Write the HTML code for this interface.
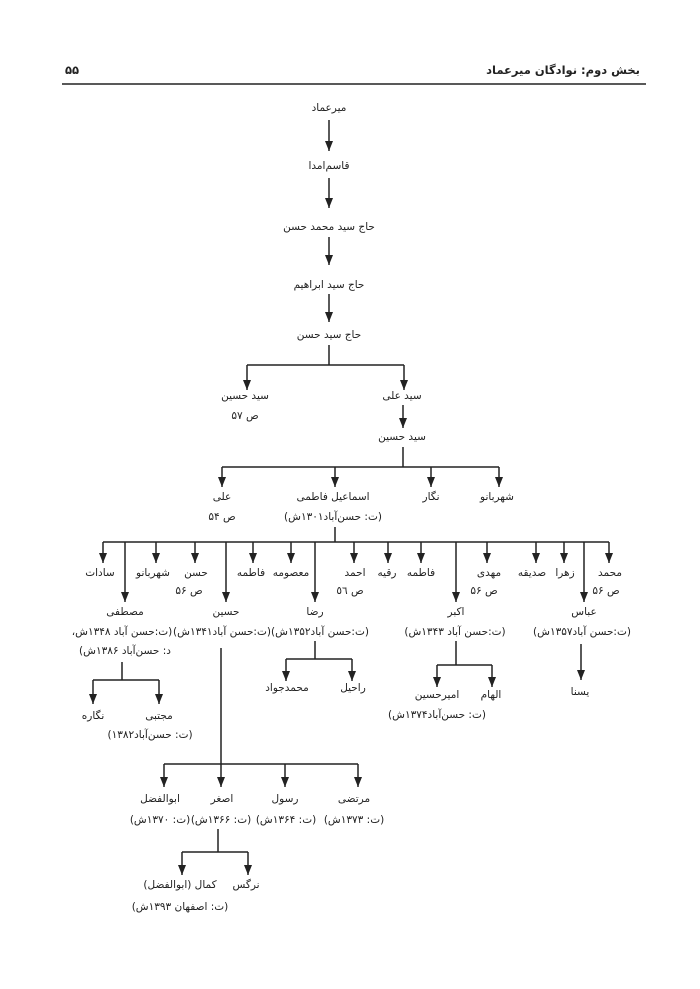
<!DOCTYPE html>
<html><head><meta charset="utf-8">
<style>
html,body{margin:0;padding:0;background:#fff;}
svg{display:block;}
text{font-family:"DejaVu Sans",sans-serif;font-size:10.5px;fill:#222;text-anchor:middle;direction:rtl;unicode-bidi:embed;}
.h{font-size:11.5px;font-weight:bold;}
line,path{stroke:#222;stroke-width:1.5;fill:none;}
</style></head><body>
<svg width="700" height="989" viewBox="0 0 700 989" xmlns="http://www.w3.org/2000/svg">
<defs><marker id="a" markerWidth="10" markerHeight="8" refX="10" refY="4" orient="auto" markerUnits="userSpaceOnUse" viewBox="0 0 10 8"><path d="M0,0 L10,4 L0,8 Z" style="fill:#222;stroke:none"/></marker></defs>

<text class="h" x="640" y="74" style="text-anchor:start">بخش دوم: نوادگان میرعماد</text>
<text class="h" x="72" y="74">۵۵</text>
<line x1="62" y1="84" x2="646" y2="84" style="stroke-width:1.6"/>

<text x="329" y="111">میرعماد</text>
<line x1="329" y1="120" x2="329" y2="151" marker-end="url(#a)"/>
<text x="329" y="169">قاسم‌امدا</text>
<line x1="329" y1="178" x2="329" y2="208" marker-end="url(#a)"/>
<text x="329" y="230">حاج سید محمد حسن</text>
<line x1="329" y1="237" x2="329" y2="265" marker-end="url(#a)"/>
<text x="329" y="288">حاج سید ابراهیم</text>
<line x1="329" y1="294" x2="329" y2="322" marker-end="url(#a)"/>
<text x="329" y="338">حاج سید حسن</text>
<path d="M329,345 V365 M247,365 H404"/>
<line x1="247" y1="365" x2="247" y2="390" marker-end="url(#a)"/>
<line x1="404" y1="365" x2="404" y2="390" marker-end="url(#a)"/>
<text x="245" y="399">سید حسین</text>
<text x="245" y="419">ص ۵۷</text>
<text x="402" y="399">سید علی</text>
<line x1="403" y1="405" x2="403" y2="428" marker-end="url(#a)"/>
<text x="402" y="440">سید حسین</text>

<path d="M403,447 V467 M222,467 H499"/>
<line x1="222" y1="467" x2="222" y2="487" marker-end="url(#a)"/>
<line x1="335" y1="467" x2="335" y2="487" marker-end="url(#a)"/>
<line x1="431" y1="467" x2="431" y2="487" marker-end="url(#a)"/>
<line x1="499" y1="467" x2="499" y2="487" marker-end="url(#a)"/>
<text x="222" y="500">علی</text>
<text x="222" y="520">ص ۵۴</text>
<text x="333" y="500">اسماعیل فاطمی</text>
<text x="333" y="520">(ت: حسن‌آباد۱۳۰۱ش)</text>
<text x="431" y="500">نگار</text>
<text x="497" y="500">شهربانو</text>

<path d="M335,527 V542 M103,542 H609"/>
<g>
<line x1="103" y1="542" x2="103" y2="563" marker-end="url(#a)"/>
<line x1="156" y1="542" x2="156" y2="563" marker-end="url(#a)"/>
<line x1="195" y1="542" x2="195" y2="563" marker-end="url(#a)"/>
<line x1="253" y1="542" x2="253" y2="563" marker-end="url(#a)"/>
<line x1="291" y1="542" x2="291" y2="563" marker-end="url(#a)"/>
<line x1="354" y1="542" x2="354" y2="563" marker-end="url(#a)"/>
<line x1="388" y1="542" x2="388" y2="563" marker-end="url(#a)"/>
<line x1="421" y1="542" x2="421" y2="563" marker-end="url(#a)"/>
<line x1="487" y1="542" x2="487" y2="563" marker-end="url(#a)"/>
<line x1="536" y1="542" x2="536" y2="563" marker-end="url(#a)"/>
<line x1="564" y1="542" x2="564" y2="563" marker-end="url(#a)"/>
<line x1="609" y1="542" x2="609" y2="563" marker-end="url(#a)"/>
<line x1="125" y1="542" x2="125" y2="602" marker-end="url(#a)"/>
<line x1="226" y1="542" x2="226" y2="602" marker-end="url(#a)"/>
<line x1="315" y1="542" x2="315" y2="602" marker-end="url(#a)"/>
<line x1="456" y1="542" x2="456" y2="602" marker-end="url(#a)"/>
<line x1="584" y1="542" x2="584" y2="602" marker-end="url(#a)"/>
</g>
<text x="100" y="576">سادات</text>
<text x="153" y="576">شهربانو</text>
<text x="196" y="576">حسن</text>
<text x="189" y="594">ص ۵۶</text>
<text x="251" y="576">فاطمه</text>
<text x="291" y="576">معصومه</text>
<text x="355" y="576">احمد</text>
<text x="350" y="594">ص ٥٦</text>
<text x="387" y="576">رقیه</text>
<text x="421" y="576">فاطمه</text>
<text x="489" y="576">مهدی</text>
<text x="484" y="594">ص ۵۶</text>
<text x="532" y="576">صدیقه</text>
<text x="565" y="576">زهرا</text>
<text x="610" y="576">محمد</text>
<text x="606" y="594">ص ۵۶</text>

<text x="125" y="615">مصطفی</text>
<text x="122" y="635">(ت:حسن آباد ۱۳۴۸ش،</text>
<text x="125" y="654">د: حسن‌آباد ۱۳۸۶ش)</text>
<text x="226" y="615">حسین</text>
<text x="222" y="635">(ت:حسن آباد۱۳۴۱ش)</text>
<text x="315" y="615">رضا</text>
<text x="320" y="635">(ت:حسن آباد۱۳۵۲ش)</text>
<text x="456" y="615">اکبر</text>
<text x="455" y="635">(ت:حسن آباد ۱۳۴۳ش)</text>
<text x="584" y="615">عباس</text>
<text x="582" y="635">(ت:حسن آباد۱۳۵۷ش)</text>

<path d="M122,662 V680 M93,680 H159"/>
<line x1="93" y1="680" x2="93" y2="704" marker-end="url(#a)"/>
<line x1="159" y1="680" x2="159" y2="704" marker-end="url(#a)"/>
<text x="93" y="719">نگاره</text>
<text x="159" y="719">مجتبی</text>
<text x="150" y="738">(ت: حسن‌آباد۱۳۸۲)</text>

<path d="M315,641 V659 M286,659 H352"/>
<line x1="286" y1="659" x2="286" y2="681" marker-end="url(#a)"/>
<line x1="352" y1="659" x2="352" y2="681" marker-end="url(#a)"/>
<text x="287" y="691">محمدجواد</text>
<text x="353" y="691">راحیل</text>

<path d="M456,641 V665 M437,665 H492"/>
<line x1="437" y1="665" x2="437" y2="687" marker-end="url(#a)"/>
<line x1="492" y1="665" x2="492" y2="687" marker-end="url(#a)"/>
<text x="437" y="698">امیرحسین</text>
<text x="491" y="698">الهام</text>
<text x="437" y="718">(ت: حسن‌آباد۱۳۷۴ش)</text>

<line x1="581" y1="644" x2="581" y2="680" marker-end="url(#a)"/>
<text x="580" y="695">یسنا</text>

<path d="M221,648 V764 M164,764 H358"/>
<line x1="164" y1="764" x2="164" y2="787" marker-end="url(#a)"/>
<line x1="221" y1="764" x2="221" y2="787" marker-end="url(#a)"/>
<line x1="285" y1="764" x2="285" y2="787" marker-end="url(#a)"/>
<line x1="358" y1="764" x2="358" y2="787" marker-end="url(#a)"/>
<text x="160" y="802">ابوالفضل</text>
<text x="222" y="802">اصغر</text>
<text x="285" y="802">رسول</text>
<text x="354" y="802">مرتضی</text>
<text x="160" y="823">(ت: ۱۳۷۰ش)</text>
<text x="221" y="823">(ت: ۱۳۶۶ش)</text>
<text x="286" y="823">(ت: ۱۳۶۴ش)</text>
<text x="354" y="823">(ت: ۱۳۷۳ش)</text>

<path d="M218,829 V852 M182,852 H248"/>
<line x1="182" y1="852" x2="182" y2="875" marker-end="url(#a)"/>
<line x1="248" y1="852" x2="248" y2="875" marker-end="url(#a)"/>
<text x="180" y="888">کمال (ابوالفضل)</text>
<text x="246" y="888">نرگس</text>
<text x="180" y="910">(ت: اصفهان ۱۳۹۳ش)</text>
</svg>
</body></html>
